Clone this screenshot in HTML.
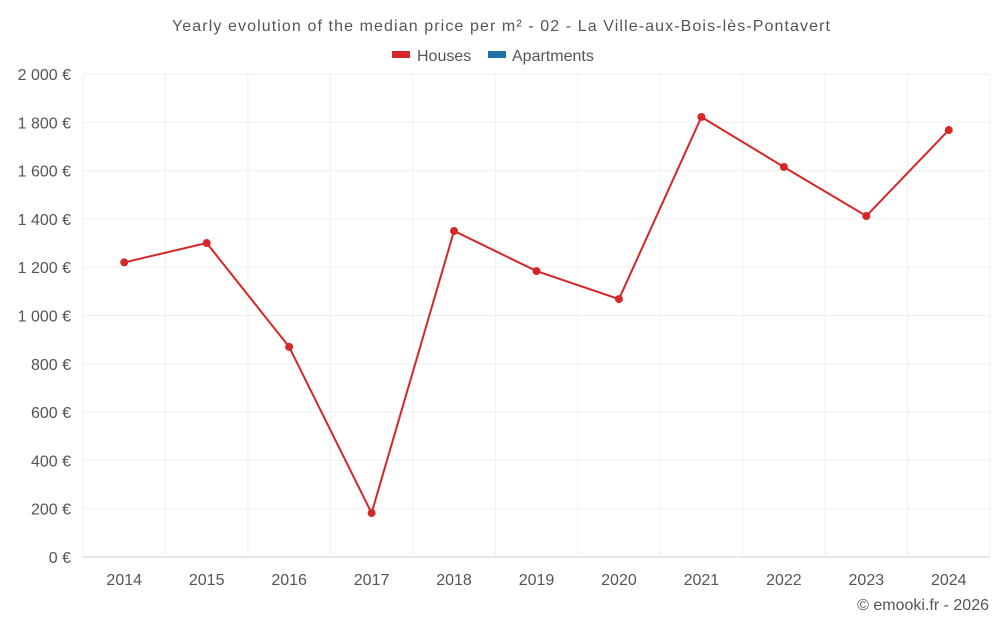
<!DOCTYPE html>
<html><head><meta charset="utf-8"><style>
body{margin:0;background:#fff;font-family:"Liberation Sans",sans-serif;}
svg text{font-family:"Liberation Sans",sans-serif;fill:#555;}
</style></head><body>
<svg id="chart" width="1000" height="625" xmlns="http://www.w3.org/2000/svg">
<text x="172" y="31" font-size="16" textLength="658" lengthAdjust="spacing">Yearly evolution of the median price per m² - 02 - La Ville-aux-Bois-lès-Pontavert</text>
<g><rect x="392" y="51" width="18" height="7" fill="#d62728"/><text x="417" y="61" font-size="16">Houses</text></g>
<g><rect x="488" y="51" width="18" height="7" fill="#1f6fa8"/><text x="512" y="61" font-size="16">Apartments</text></g>
<g id="grid"></g><g id="axes"></g><g id="series"></g>
<text x="989" y="610" text-anchor="end" font-size="16">© emooki.fr - 2026</text>
</svg>
<script>
const years=[2014,2015,2016,2017,2018,2019,2020,2021,2022,2023,2024];
const houses=[1220,1300,870,182,1350,1184,1068,1822,1615,1412,1768];
const yTicks=[0,200,400,600,800,1000,1200,1400,1600,1800,2000];
const yLabels=["0 €","200 €","400 €","600 €","800 €","1 000 €","1 200 €","1 400 €","1 600 €","1 800 €","2 000 €"];
const L=83,R=990,T=74,B=557,NS="http://www.w3.org/2000/svg";
const band=(R-L)/years.length;
const x=i=>L+band*(i+0.5);
const y=v=>B-(v/2000)*(B-T);
function mk(tag,attrs,parent){const e=document.createElementNS(NS,tag);for(const k in attrs)e.setAttribute(k,attrs[k]);parent.appendChild(e);return e;}
const grid=document.getElementById('grid'),axes=document.getElementById('axes'),ser=document.getElementById('series');
yTicks.forEach((t,i)=>{
 const l=mk('line',{x1:L,x2:R,y1:y(t),y2:y(t),stroke:t===0?'#ccc':'#f0f0f0'},grid);
 
 
 const tx=mk('text',{x:71,y:y(t)+6,'text-anchor':'end','font-size':16},axes);tx.textContent=yLabels[i];
 
 
});
for(let i=0;i<=years.length;i++){
 const l=mk('line',{x1:L+band*i,x2:L+band*i,y1:T,y2:B,stroke:'#f0f0f0'},grid);
 
 
}
years.forEach((yr,i)=>{
 const tx=mk('text',{x:x(i),y:585,'text-anchor':'middle','font-size':16},axes);tx.textContent=yr;
 
 
});
const p=mk('polyline',{points:houses.map((v,i)=>x(i)+','+y(v)).join(' '),fill:'none',stroke:'#d62728','stroke-width':2},ser);


houses.forEach((v,i)=>{
 const c=mk('circle',{cx:x(i),cy:y(v),r:4,fill:'#d62728'},ser);
 
 
});
</script>
</body></html>
